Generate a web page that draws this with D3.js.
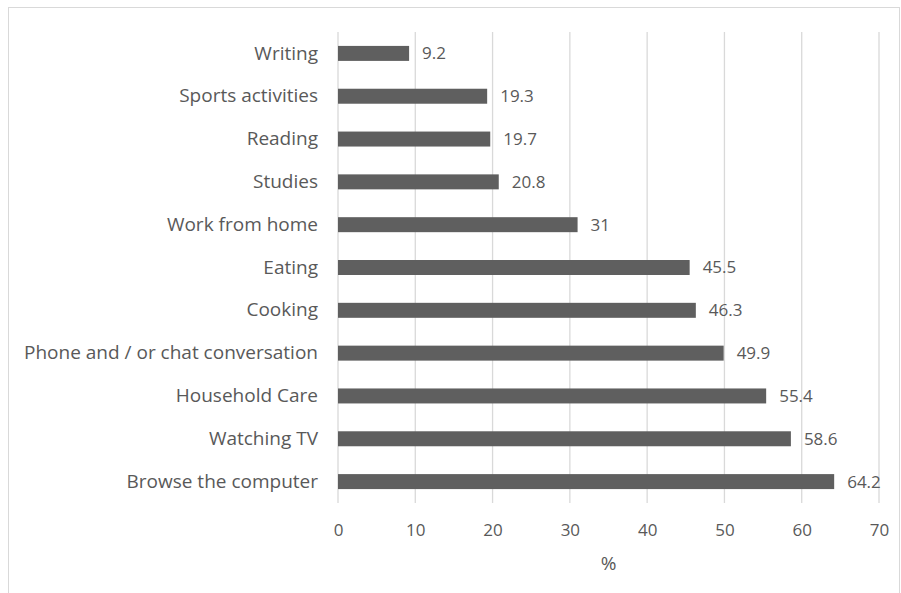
<!DOCTYPE html>
<html>
<head>
<meta charset="utf-8">
<script src="https://cdn.jsdelivr.net/npm/d3@7"></script>
<style>
  body { margin: 0; background: #fff; }
  text { font-family: "Open Sans", sans-serif; fill: #595959; }
</style>
</head>
<body>
<script>
// dados
var atividades = ['Writing', 'Sports activities', 'Reading', 'Studies', 'Work from home',
  'Eating', 'Cooking', 'Phone and / or chat conversation', 'Household Care',
  'Watching TV', 'Browse the computer']
var valores = [9.2, 19.3, 19.7, 20.8, 31, 45.5, 46.3, 49.9, 55.4, 58.6, 64.2]
var ticksX = [0, 10, 20, 30, 40, 50, 60, 70]

var dados = atividades.map(function (a, i) { return {nome: a, valor: valores[i]} })

var largura = 901, altura = 593
var margem = {topo: 32, direita: 22, base: 90, esquerda: 338}
var larg = largura - margem.esquerda - margem.direita
var alt = altura - margem.topo - margem.base

var svg = d3.select('body').append('svg')
  .attr('width', largura).attr('height', altura)

// moldura
svg.append('rect')
  .attr('x', 8.5).attr('y', 7.5)
  .attr('width', 891).attr('height', 590)
  .attr('fill', 'none').attr('stroke', '#d9d9d9')

var g = svg.append('g')
  .attr('transform', 'translate(' + margem.esquerda + ',' + margem.topo + ')')

var x = d3.scaleLinear().domain([0, 70]).range([0, larg])
var y = d3.scaleBand().domain(atividades).range([0, alt]).paddingInner(0.65).paddingOuter(0.325)

// grade
g.selectAll('.grade').data(ticksX).enter().append('line')
  .attr('x1', function (d) { return x(d) }).attr('x2', function (d) { return x(d) })
  .attr('y1', 0).attr('y2', alt)
  .attr('stroke', '#d9d9d9').attr('stroke-width', 1.3)

// barras
g.selectAll('.barra').data(dados).enter().append('rect')
  .attr('x', x(0))
  .attr('y', function (d) { return y(d.nome) })
  .attr('width', function (d) { return x(d.valor) - x(0) })
  .attr('height', y.bandwidth())
  .attr('fill', '#5f5f5f')

// rotulos de valor
g.selectAll('.rotulo').data(dados).enter().append('text')
  .attr('x', function (d) { return x(d.valor) + 13 })
  .attr('y', function (d) { return y(d.nome) + y.bandwidth() / 2 })
  .attr('dy', '0.35em')
  .style('font-size', '17px')
  .text(function (d) { return d.valor })

// eixo y (categorias)
var eixoY = d3.axisLeft(y).tickSize(0).tickPadding(20)
var gy = g.append('g').call(eixoY)
gy.select('.domain').remove()
gy.selectAll('text').style('font-size', '19px')

// eixo x
var eixoX = d3.axisBottom(x).tickValues(ticksX).tickSize(0).tickPadding(21)
var gx = g.append('g').attr('transform', 'translate(0,' + alt + ')').call(eixoX)
gx.select('.domain').remove()
gx.selectAll('text').style('font-size', '17px')

// titulo do eixo
g.append('text')
  .attr('x', larg / 2).attr('y', alt + 67)
  .attr('text-anchor', 'middle')
  .style('font-size', '19px')
  .text('%')
</script>
</body>
</html>
